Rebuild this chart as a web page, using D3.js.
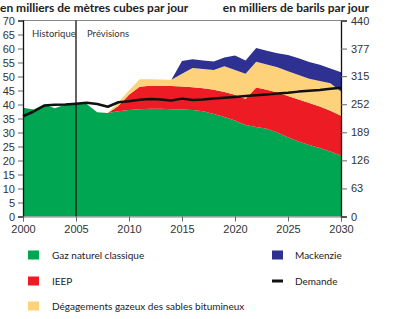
<!DOCTYPE html>
<head>
  <meta charset="utf-8">
  <title>Gaz naturel</title>
  <script src="https://cdn.jsdelivr.net/npm/d3@7"></script>
  <style>
  body { margin: 0; background: #fff; }
  svg { font-family: Lato, "DejaVu Sans", sans-serif; }
  .axis text { fill: #333; font-size: 11px; }
  .axis line { stroke: #666; }
  .legend text { fill: #222; font-size: 10px; }
  .title { font-weight: bold; font-size: 12px; fill: #222; }
  </style>
</head>
<body>
  <script type="text/javascript">
    var WIDTH = 400;
    var HEIGHT = 319;

    // data
    var years = d3.range(2000, 2031);
    var gazClassique = [38.8, 38.2, 40, 38.7, 40, 40.2, 40.2, 37.2, 37, 37.6,
                        38, 38.3, 38.5, 38.5, 38.3, 38.2, 38, 37.6, 36.6, 35.5,
                        34.3, 32.7, 32, 31.3, 30, 28.3, 26.8, 25.5, 24.5, 23.2, 21.8];
    var ieep = [null, null, null, null, null, null, null, null, 0, 1.9,
                5.5, 8, 8.2, 8.2, 8.3, 8.2, 8.2, 8.2, 8.7, 9.0,
                9.2, 9.3, 14.1, 14.0, 14.3, 14.7, 15.0, 15.0, 14.8, 14.6, 14.2];
    var sablesBitumineux = [null, null, null, null, null, null, null, null, 0, 1.3,
                1.5, 2.7, 2.3, 2.2, 2.2, 4.6, 6.8, 6.9, 7.0, 9.2,
                8.8, 9.0, 9.2, 9.0, 9.0, 8.9, 8.7, 8.7, 9.1, 9.8, 8.6];
    var mackenzie = [null, null, null, null, null, null, null, null, null, null,
                null, null, null, null, 0, 4.5, 3.2, 3.0, 3.1, 3.1,
                5.2, 4.7, 4.9, 4.9, 5.0, 5.8, 6.0, 6.0, 5.8, 5.3, 6.9];
    var demande = [35.8, 37.5, 39.6, 39.9, 40, 40.3, 40.6, 40.2, 39.2, 40.8,
                   41.2, 41.7, 42, 41.8, 41.4, 42.1, 41.6, 41.8, 42.1, 42.4,
                   42.7, 43, 43.3, 43.6, 43.9, 44.2, 44.6, 44.9, 45.2, 45.6, 46];

    var leftTicks = d3.range(0, 71, 5);
    var rightTicks = [0, 63, 126, 189, 252, 315, 377, 440];
    var xTicks = [2000, 2005, 2010, 2015, 2020, 2025, 2030];

    var seriesNames = ["Gaz naturel classique", "IEEP",
                       "Dégagements gazeux des sables bitumineux", "Mackenzie"];
    var seriesData = [gazClassique, ieep, sablesBitumineux, mackenzie];
    var colors = ["#00a651", "#ed1c24", "#fdd27b", "#2e3192"];

    var svg = d3.select("body").append("svg")
                .attr("width", WIDTH)
                .attr("height", HEIGHT);

    var x = d3.scaleLinear().domain([2000, 2030]).range([23, 341]);
    var y = d3.scaleLinear().domain([0, 70]).range([216.5, 20.5]);
    var yR = d3.scaleLinear().domain([0, 440]).range([216.5, 20.5]);

    // table for stacking
    var table = years.map(function(yr, i){
      var row = {year: yr};
      seriesNames.forEach(function(n, k){ row[n] = seriesData[k][i] || 0; });
      return row;
    });
    var stack = d3.stack().keys(seriesNames)(table);

    var area = function(k){
      return d3.area()
        .defined(function(d, i){ return seriesData[k][i] != null; })
        .x(function(d){ return x(d.data.year); })
        .y0(function(d){ return y(d[0]); })
        .y1(function(d){ return y(d[1]); });
    };

    svg.append("g").selectAll("path")
      .data(stack)
      .enter().append("path")
      .attr("fill", function(d, k){ return colors[k]; })
      .attr("d", function(d, k){ return area(k)(d); });

    // frame top
    svg.append("line")
      .attr("x1", x(2000)).attr("x2", x(2030))
      .attr("y1", y(70)).attr("y2", y(70))
      .attr("stroke", "#888").attr("stroke-width", 1);

    // historique / prévisions
    svg.append("line")
      .attr("x1", x(2005)).attr("x2", x(2005))
      .attr("y1", y(70)).attr("y2", y(0))
      .attr("stroke", "#111").attr("stroke-width", 1.3);
    svg.append("text").attr("x", 32).attr("y", 37)
      .attr("font-size", 9.5).attr("fill", "#333").text("Historique");
    svg.append("text").attr("x", 87).attr("y", 37)
      .attr("font-size", 9.5).attr("fill", "#333").text("Prévisions");

    // demande
    svg.append("path")
      .datum(demande)
      .attr("fill", "none")
      .attr("stroke", "#111")
      .attr("stroke-width", 2.5)
      .attr("stroke-linejoin", "round")
      .attr("d", d3.line()
        .x(function(d, i){ return x(years[i]); })
        .y(function(d){ return y(d); }));

    // axes
    var gL = svg.append("g").attr("class", "axis")
      .attr("transform", "translate(" + x(2000) + ",0)")
      .call(d3.axisLeft(y).tickValues(leftTicks).tickSize(5).tickPadding(3));
    gL.select(".domain").attr("stroke", "#111").attr("stroke-width", 1.3);

    var gB = svg.append("g").attr("class", "axis")
      .attr("transform", "translate(0," + y(0) + ")")
      .call(d3.axisBottom(x).tickValues(xTicks).tickFormat(d3.format("d")).tickSize(5).tickPadding(4));
    gB.select(".domain").attr("stroke", "#888");

    var gR = svg.append("g").attr("class", "axis")
      .attr("transform", "translate(" + x(2030) + ",0)")
      .call(d3.axisRight(yR).tickValues(rightTicks).tickSize(6).tickPadding(4));
    gR.select(".domain").attr("stroke", "#111").attr("stroke-width", 1.3);

    // titres
    svg.append("text").attr("class", "title")
      .attr("x", 0).attr("y", 12)
      .text("en milliers de mètres cubes par jour");
    svg.append("text").attr("class", "title")
      .attr("x", 369).attr("y", 12).attr("text-anchor", "end")
      .text("en milliers de barils par jour");

    // legend
    var legendItems = [
      {name: seriesNames[0], color: colors[0], x: 28, y: 255},
      {name: seriesNames[1], color: colors[1], x: 28, y: 281},
      {name: seriesNames[2], color: colors[2], x: 28, y: 306},
      {name: seriesNames[3], color: colors[3], x: 272, y: 255},
      {name: "Demande", color: "#111", x: 272, y: 281, line: true}
    ];
    var lg = svg.append("g").attr("class", "legend")
      .selectAll("g").data(legendItems).enter().append("g")
      .attr("transform", function(d){ return "translate(" + d.x + "," + d.y + ")"; });
    lg.append("rect")
      .attr("x", 0)
      .attr("y", function(d){ return d.line ? -1.5 : -4.5; })
      .attr("width", 11)
      .attr("height", function(d){ return d.line ? 3 : 9; })
      .attr("fill", function(d){ return d.color; });
    lg.append("text")
      .attr("x", function(d){ return d.x < 100 ? 24 : 23; })
      .attr("dy", "0.35em")
      .text(function(d){ return d.name; });
  </script>
</body>
